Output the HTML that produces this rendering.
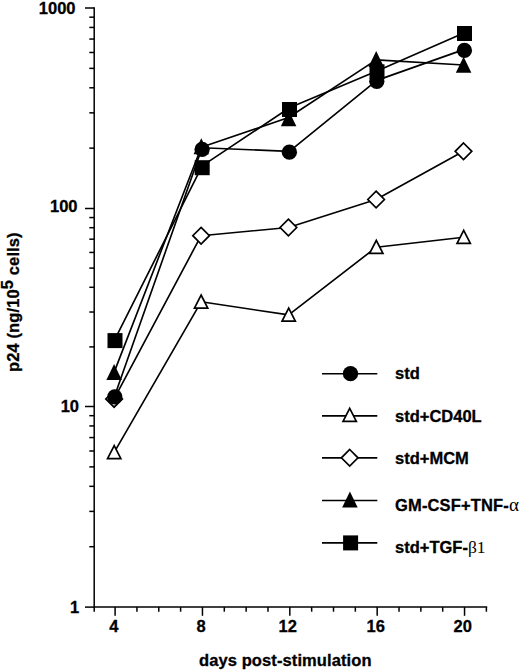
<!DOCTYPE html>
<html><head><meta charset="utf-8"><style>
html,body{margin:0;padding:0;background:#fff;}
body{width:520px;height:671px;overflow:hidden;font-family:"Liberation Sans",sans-serif;}
svg{display:block;}
</style></head><body>
<svg width="520" height="671" viewBox="0 0 520 671">
<rect width="520" height="671" fill="#fff"/>
<g stroke="#000" stroke-width="1.5" fill="none" stroke-linecap="butt">
<line x1="94.2" y1="7.3" x2="94.2" y2="611.8"/>
<line x1="93.45" y1="607.1" x2="487.2" y2="607.1"/>
<line x1="85" y1="607.10" x2="94.2" y2="607.10"/>
<line x1="89.3" y1="546.71" x2="94.2" y2="546.71"/>
<line x1="89.3" y1="511.39" x2="94.2" y2="511.39"/>
<line x1="89.3" y1="486.33" x2="94.2" y2="486.33"/>
<line x1="89.3" y1="466.89" x2="94.2" y2="466.89"/>
<line x1="89.3" y1="451.00" x2="94.2" y2="451.00"/>
<line x1="89.3" y1="437.57" x2="94.2" y2="437.57"/>
<line x1="89.3" y1="425.94" x2="94.2" y2="425.94"/>
<line x1="89.3" y1="415.68" x2="94.2" y2="415.68"/>
<line x1="85" y1="406.50" x2="94.2" y2="406.50"/>
<line x1="89.3" y1="346.90" x2="94.2" y2="346.90"/>
<line x1="89.3" y1="312.03" x2="94.2" y2="312.03"/>
<line x1="89.3" y1="287.29" x2="94.2" y2="287.29"/>
<line x1="89.3" y1="268.10" x2="94.2" y2="268.10"/>
<line x1="89.3" y1="252.43" x2="94.2" y2="252.43"/>
<line x1="89.3" y1="239.17" x2="94.2" y2="239.17"/>
<line x1="89.3" y1="227.69" x2="94.2" y2="227.69"/>
<line x1="89.3" y1="217.56" x2="94.2" y2="217.56"/>
<line x1="85" y1="208.50" x2="94.2" y2="208.50"/>
<line x1="89.3" y1="148.14" x2="94.2" y2="148.14"/>
<line x1="89.3" y1="112.84" x2="94.2" y2="112.84"/>
<line x1="89.3" y1="87.79" x2="94.2" y2="87.79"/>
<line x1="89.3" y1="68.36" x2="94.2" y2="68.36"/>
<line x1="89.3" y1="52.48" x2="94.2" y2="52.48"/>
<line x1="89.3" y1="39.06" x2="94.2" y2="39.06"/>
<line x1="89.3" y1="27.43" x2="94.2" y2="27.43"/>
<line x1="89.3" y1="17.17" x2="94.2" y2="17.17"/>
<line x1="85" y1="8.00" x2="94.2" y2="8.00"/>
<line x1="115.10" y1="607.1" x2="115.10" y2="615.8"/>
<line x1="136.94" y1="607.1" x2="136.94" y2="611.7"/>
<line x1="158.78" y1="607.1" x2="158.78" y2="611.7"/>
<line x1="180.62" y1="607.1" x2="180.62" y2="611.7"/>
<line x1="202.46" y1="607.1" x2="202.46" y2="615.8"/>
<line x1="224.30" y1="607.1" x2="224.30" y2="611.7"/>
<line x1="246.14" y1="607.1" x2="246.14" y2="611.7"/>
<line x1="267.98" y1="607.1" x2="267.98" y2="611.7"/>
<line x1="289.82" y1="607.1" x2="289.82" y2="615.8"/>
<line x1="311.66" y1="607.1" x2="311.66" y2="611.7"/>
<line x1="333.50" y1="607.1" x2="333.50" y2="611.7"/>
<line x1="355.34" y1="607.1" x2="355.34" y2="611.7"/>
<line x1="377.18" y1="607.1" x2="377.18" y2="615.8"/>
<line x1="399.02" y1="607.1" x2="399.02" y2="611.7"/>
<line x1="420.86" y1="607.1" x2="420.86" y2="611.7"/>
<line x1="442.70" y1="607.1" x2="442.70" y2="611.7"/>
<line x1="464.54" y1="607.1" x2="464.54" y2="615.8"/>
<line x1="486.38" y1="607.1" x2="486.38" y2="611.7"/>
</g>
<g stroke="#000" stroke-width="1.65" fill="none" stroke-linejoin="round">
<polyline points="114.80,395.50 202.10,147.70 289.40,151.40 376.80,80.40 464.40,49.40"/>
<polyline points="114.20,452.40 201.10,301.80 288.70,314.90 376.30,247.20 463.70,237.20"/>
<polyline points="114.10,398.90 201.10,235.70 288.40,227.50 376.10,199.50 463.50,151.30"/>
<polyline points="114.10,372.40 201.30,147.25 288.60,117.50 376.20,59.90 463.60,65.00"/>
<polyline points="115.00,339.10 202.20,165.90 289.50,107.80 377.00,71.00 464.50,32.70"/>
</g>
<path d="M114.20,445.60 L120.85,458.65 L107.55,458.65 Z" fill="#fff" stroke="#000" stroke-width="1.7" stroke-linejoin="miter"/>
<path d="M201.10,295.00 L207.75,308.05 L194.45,308.05 Z" fill="#fff" stroke="#000" stroke-width="1.7" stroke-linejoin="miter"/>
<path d="M288.70,308.10 L295.35,321.15 L282.05,321.15 Z" fill="#fff" stroke="#000" stroke-width="1.7" stroke-linejoin="miter"/>
<path d="M376.30,240.40 L382.95,253.45 L369.65,253.45 Z" fill="#fff" stroke="#000" stroke-width="1.7" stroke-linejoin="miter"/>
<path d="M463.70,230.40 L470.35,243.45 L457.05,243.45 Z" fill="#fff" stroke="#000" stroke-width="1.7" stroke-linejoin="miter"/>
<path d="M114.10,390.60 L122.40,398.90 L114.10,407.20 L105.80,398.90 Z" fill="#fff" stroke="#000" stroke-width="1.7" stroke-linejoin="miter"/>
<path d="M201.10,227.40 L209.40,235.70 L201.10,244.00 L192.80,235.70 Z" fill="#fff" stroke="#000" stroke-width="1.7" stroke-linejoin="miter"/>
<path d="M288.40,219.20 L296.70,227.50 L288.40,235.80 L280.10,227.50 Z" fill="#fff" stroke="#000" stroke-width="1.7" stroke-linejoin="miter"/>
<path d="M376.10,191.20 L384.40,199.50 L376.10,207.80 L367.80,199.50 Z" fill="#fff" stroke="#000" stroke-width="1.7" stroke-linejoin="miter"/>
<path d="M463.50,143.00 L471.80,151.30 L463.50,159.60 L455.20,151.30 Z" fill="#fff" stroke="#000" stroke-width="1.7" stroke-linejoin="miter"/>
<circle cx="114.80" cy="396.90" r="7.65" fill="#000"/>
<circle cx="202.10" cy="149.30" r="7.65" fill="#000"/>
<circle cx="289.40" cy="152.20" r="7.65" fill="#000"/>
<circle cx="376.80" cy="81.30" r="7.65" fill="#000"/>
<circle cx="464.40" cy="50.40" r="7.65" fill="#000"/>
<path d="M114.10,363.90 L121.85,380.00 L106.35,380.00 Z" fill="#000"/>
<path d="M201.30,138.25 L209.05,154.35 L193.55,154.35 Z" fill="#000"/>
<path d="M288.60,110.20 L296.35,126.30 L280.85,126.30 Z" fill="#000"/>
<path d="M376.20,50.90 L383.95,67.00 L368.45,67.00 Z" fill="#000"/>
<path d="M463.60,56.70 L471.35,72.80 L455.85,72.80 Z" fill="#000"/>
<rect x="107.50" y="333.10" width="15.0" height="15.0" fill="#000"/>
<rect x="194.70" y="160.20" width="15.0" height="15.0" fill="#000"/>
<rect x="282.00" y="102.00" width="15.0" height="15.0" fill="#000"/>
<rect x="369.50" y="64.30" width="15.0" height="15.0" fill="#000"/>
<rect x="457.00" y="26.00" width="15.0" height="15.0" fill="#000"/>
<g stroke="#000" stroke-width="1.65">
<line x1="322" y1="373.7" x2="377.3" y2="373.7"/>
<line x1="322" y1="415.9" x2="377.3" y2="415.9"/>
<line x1="322" y1="457.8" x2="377.3" y2="457.8"/>
<line x1="322" y1="500.5" x2="377.3" y2="500.5"/>
<line x1="322" y1="542.9" x2="377.3" y2="542.9"/>
</g>
<circle cx="350.50" cy="373.70" r="7.65" fill="#000"/>
<path d="M349.70,408.40 L356.35,421.45 L343.05,421.45 Z" fill="#fff" stroke="#000" stroke-width="1.7" stroke-linejoin="miter"/>
<path d="M349.70,449.50 L358.00,457.80 L349.70,466.10 L341.40,457.80 Z" fill="#fff" stroke="#000" stroke-width="1.7" stroke-linejoin="miter"/>
<path d="M349.90,491.50 L357.65,507.60 L342.15,507.60 Z" fill="#000"/>
<rect x="343.10" y="535.40" width="15.0" height="15.0" fill="#000"/>
<text x="395" y="379.1" font-size="16.5" font-family="Liberation Sans, sans-serif" font-weight="bold" stroke="#000" stroke-width="0.3" letter-spacing="0">std</text>
<text x="395" y="421.5" font-size="16.5" font-family="Liberation Sans, sans-serif" font-weight="bold" stroke="#000" stroke-width="0.3" letter-spacing="0">std+CD40L</text>
<text x="395" y="463.8" font-size="16.5" font-family="Liberation Sans, sans-serif" font-weight="bold" stroke="#000" stroke-width="0.3" letter-spacing="0">std+MCM</text>
<text x="395" y="510.5" font-size="16.5" font-family="Liberation Sans, sans-serif" font-weight="bold" stroke="#000" stroke-width="0.3" letter-spacing="0.15">GM-CSF+TNF-<tspan font-family="Liberation Serif, serif" font-weight="normal" stroke="none" font-size="19">α</tspan></text>
<text x="395" y="552.7" font-size="16.5" font-family="Liberation Sans, sans-serif" font-weight="bold" stroke="#000" stroke-width="0.3" letter-spacing="0">std+TGF-<tspan font-family="Liberation Serif, serif" font-weight="normal" stroke="none" font-size="17.5">β1</tspan></text>
<text x="75.5" y="13.7" font-size="16.5" font-family="Liberation Sans, sans-serif" font-weight="bold" stroke="#000" stroke-width="0.3" text-anchor="end">1000</text>
<text x="77.5" y="212.4" font-size="16.5" font-family="Liberation Sans, sans-serif" font-weight="bold" stroke="#000" stroke-width="0.3" text-anchor="end">100</text>
<text x="79" y="412.3" font-size="16.5" font-family="Liberation Sans, sans-serif" font-weight="bold" stroke="#000" stroke-width="0.3" text-anchor="end">10</text>
<text x="79.3" y="612.5" font-size="16.5" font-family="Liberation Sans, sans-serif" font-weight="bold" stroke="#000" stroke-width="0.3" text-anchor="end">1</text>
<text x="113.90" y="631.6" font-size="16.5" font-family="Liberation Sans, sans-serif" font-weight="bold" stroke="#000" stroke-width="0.3" text-anchor="middle">4</text>
<text x="201.05" y="631.6" font-size="16.5" font-family="Liberation Sans, sans-serif" font-weight="bold" stroke="#000" stroke-width="0.3" text-anchor="middle">8</text>
<text x="287.75" y="631.6" font-size="16.5" font-family="Liberation Sans, sans-serif" font-weight="bold" stroke="#000" stroke-width="0.3" text-anchor="middle">12</text>
<text x="375.65" y="631.6" font-size="16.5" font-family="Liberation Sans, sans-serif" font-weight="bold" stroke="#000" stroke-width="0.3" text-anchor="middle">16</text>
<text x="462.65" y="631.6" font-size="16.5" font-family="Liberation Sans, sans-serif" font-weight="bold" stroke="#000" stroke-width="0.3" text-anchor="middle">20</text>
<text x="199" y="665.5" font-size="16.5" font-family="Liberation Sans, sans-serif" font-weight="bold" stroke="#000" stroke-width="0.3" letter-spacing="0.1">days post-stimulation</text>
<text transform="translate(18.8,372) rotate(-90)" x="0" y="0" font-size="16.5" font-family="Liberation Sans, sans-serif" font-weight="bold" stroke="#000" stroke-width="0.3" letter-spacing="0.12">p24 (ng/10<tspan dy="-5.5">5</tspan><tspan dy="5.5"> cells)</tspan></text>
</svg>
</body></html>
